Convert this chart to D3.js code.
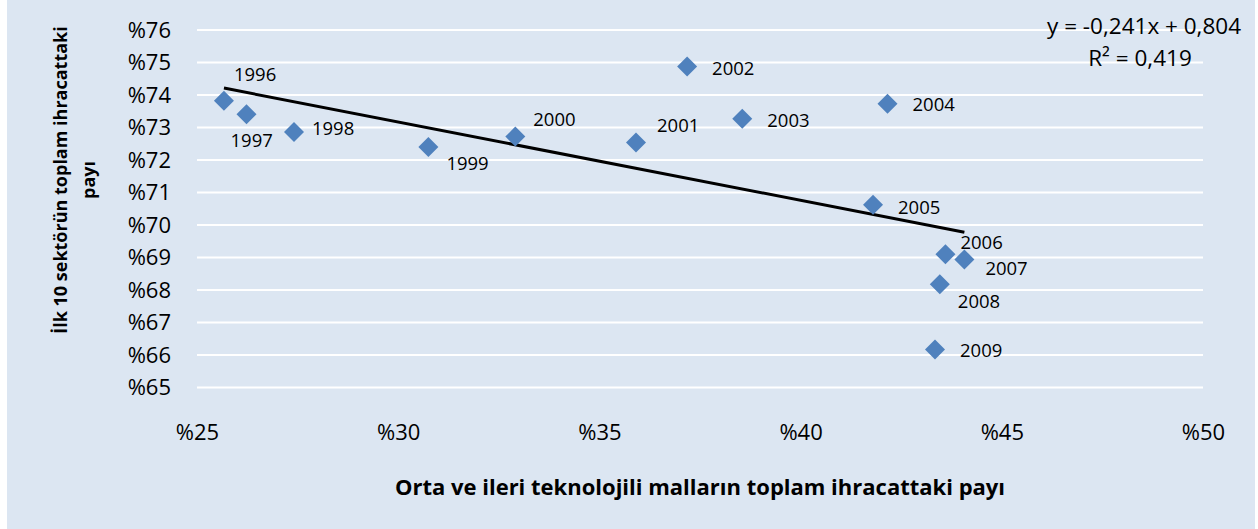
<!DOCTYPE html>
<html>
<head>
<meta charset="utf-8">
<script src="https://cdn.jsdelivr.net/npm/d3@7"></script>
<style>
  body { margin: 0; background: #fff; }
  svg { display: block; font-family: "Open Sans", sans-serif; }
</style>
</head>
<body>
<svg id="chart" width="1258" height="529"></svg>
<script>
// data (shares in %)
const years = [1996, 1997, 1998, 1999, 2000, 2001, 2002, 2003, 2004, 2005, 2006, 2007, 2008, 2009];
const techShare = [25.67, 26.23, 27.41, 30.75, 32.91, 35.91, 37.18, 38.55, 42.16, 41.80, 43.60, 44.07, 43.46, 43.34];
const top10Share = [73.82, 73.41, 72.86, 72.40, 72.72, 72.54, 74.88, 73.27, 73.73, 70.62, 69.10, 68.94, 68.18, 66.17];
const xTicks = [25, 30, 35, 40, 45, 50];
const yTicks = [65, 66, 67, 68, 69, 70, 71, 72, 73, 74, 75, 76];
const trend = { slope: -0.241, intercept: 0.804 };
const trendText = ['y = -0,241x + 0,804', 'R² = 0,419'];

// label nudges (dx from point to text start, dy to text middle), hand-placed like in Excel
const labelNudge = {
  1996: [10, -26], 1997: [-16, 26], 1998: [18, -4], 1999: [18, 17],
  2000: [18, -17], 2001: [21, -17], 2002: [25, 2], 2003: [25, 2],
  2004: [25, 1], 2005: [25, 3], 2006: [15, -12], 2007: [21, 9],
  2008: [18, 17], 2009: [25, 1]
};

const svg = d3.select('#chart');
const H = 529;
const plot = { left: 197, right: 1203, top: 30, bottom: 387.5 };

svg.append('rect')
  .attr('x', 7).attr('y', 0)
  .attr('width', 1248).attr('height', H)
  .attr('fill', '#dce6f2');

const x = d3.scaleLinear().domain([25, 50]).range([plot.left, plot.right]);
const y = d3.scaleLinear().domain([65, 76]).range([plot.bottom, plot.top]);

// gridlines
svg.append('g')
  .selectAll('line')
  .data(yTicks)
  .enter()
  .append('line')
  .attr('x1', plot.left)
  .attr('x2', plot.right)
  .attr('y1', d => y(d))
  .attr('y2', d => y(d))
  .attr('stroke', '#fff')
  .attr('stroke-width', 2);

// y axis labels
const yAxis = d3.axisLeft(y).tickValues(yTicks).tickSize(0).tickPadding(0)
  .tickFormat(d => '%' + d);
svg.append('g')
  .attr('transform', 'translate(171,0)')
  .call(yAxis)
  .attr('font-family', null)
  .attr('font-size', 22)
  .call(g => g.select('.domain').remove())
  .selectAll('text')
  .attr('fill', '#000');

// x axis labels
const xAxis = d3.axisBottom(x).tickValues(xTicks).tickSize(0).tickPadding(0)
  .tickFormat(d => '%' + d);
svg.append('g')
  .attr('transform', 'translate(0,432)')
  .call(xAxis)
  .attr('font-family', null)
  .attr('font-size', 22)
  .call(g => g.select('.domain').remove())
  .selectAll('text')
  .attr('dy', '0.35em')
  .attr('fill', '#000');

// axis titles
svg.append('text')
  .attr('x', 700)
  .attr('y', 487)
  .attr('dy', '0.35em')
  .attr('text-anchor', 'middle')
  .attr('font-size', 22)
  .attr('font-weight', 'bold')
  .text('Orta ve ileri teknolojili malların toplam ihracattaki payı');

const yTitle = svg.append('text')
  .attr('transform', 'translate(80,180) rotate(-90)')
  .attr('text-anchor', 'middle')
  .attr('font-size', 18)
  .attr('font-weight', 'bold');
yTitle.append('tspan').attr('x', 0).attr('dy', -13).text('İlk 10 sektörün toplam ihracattaki');
yTitle.append('tspan').attr('x', 0).attr('dy', 28).text('payı');

// trendline over the data range
const xExt = d3.extent(techShare);
const trendY = v => (trend.slope * v / 100 + trend.intercept) * 100;
svg.append('line')
  .attr('x1', x(xExt[0])).attr('y1', y(trendY(xExt[0])))
  .attr('x2', x(xExt[1])).attr('y2', y(trendY(xExt[1])))
  .attr('stroke', '#000')
  .attr('stroke-width', 3);

const pts = years.map((yr, i) => ({ year: yr, x: techShare[i], y: top10Share[i] }));

// diamonds
svg.append('g')
  .selectAll('path')
  .data(pts)
  .enter()
  .append('path')
  .attr('d', d3.symbol(d3.symbolDiamond2, 255))
  .attr('transform', d => `translate(${x(d.x)},${y(d.y)})`)
  .attr('fill', '#4f81bd');

// point labels
svg.append('g')
  .selectAll('text')
  .data(pts)
  .enter()
  .append('text')
  .attr('x', d => x(d.x) + labelNudge[d.year][0])
  .attr('y', d => y(d.y) + labelNudge[d.year][1])
  .attr('dy', '0.35em')
  .attr('font-size', 18.5)
  .text(d => d.year);

// trendline equation
svg.append('g')
  .selectAll('text')
  .data(trendText)
  .enter()
  .append('text')
  .attr('x', (d, i) => i === 0 ? 1241 : 1140)
  .attr('y', (d, i) => 26 + i * 32)
  .attr('dy', '0.35em')
  .attr('text-anchor', (d, i) => i === 0 ? 'end' : 'middle')
  .attr('font-size', 22.5)
  .text(d => d);
</script>
</body>
</html>
